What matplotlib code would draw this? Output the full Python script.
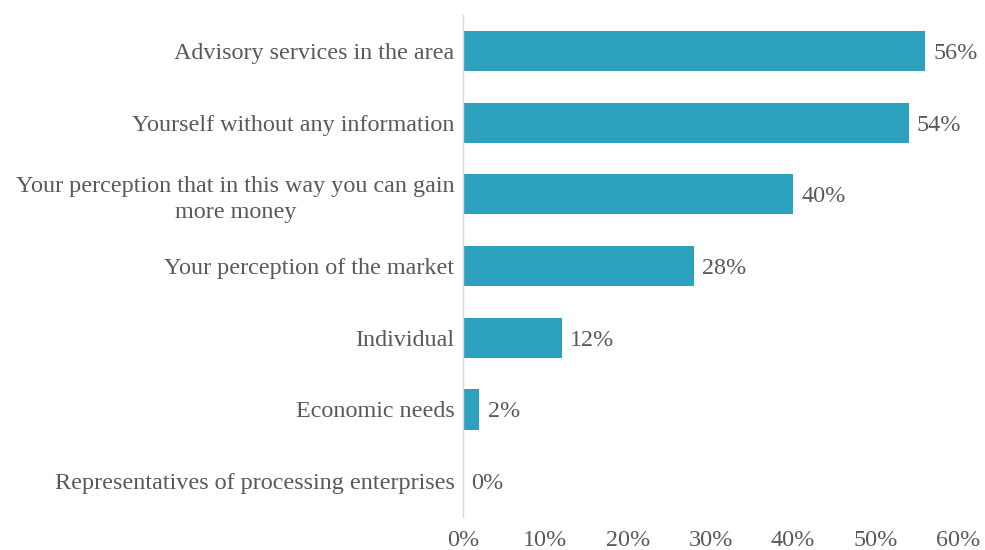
import matplotlib
matplotlib.use("Agg")
import matplotlib.pyplot as plt
from matplotlib.ticker import FuncFormatter

categories = [
    "Advisory services in the area",
    "Yourself without any information",
    "Your perception that in this way you can gain\nmore money",
    "Your perception of the market",
    "Individual",
    "Economic needs",
    "Representatives of processing enterprises",
]
values = [56, 54, 40, 28, 12, 2, 0]
x_ticks = [0, 10, 20, 30, 40, 50, 60]

bar_color = "#2CA2BF"
text_color = "#595959"
axis_color = "#D9D9D9"
font_size = 17.4

plt.rcParams["font.family"] = ["Liberation Serif", "DejaVu Serif"]

fig = plt.figure(figsize=(9.85, 5.5), dpi=100)
ax = fig.add_axes([0.470, 0.06, 0.5026, 0.9127])

positions = list(range(len(categories)))
ax.barh(positions, values, height=0.56, color=bar_color, edgecolor="none")
ax.set_ylim(len(categories) - 0.5, -0.5)
ax.set_xlim(0, 60)

ax.set_yticks(positions)
ax.set_yticklabels(categories, fontsize=font_size, color=text_color,
                   multialignment="center", linespacing=1.3)
ax.set_xticks(x_ticks)
ax.xaxis.set_major_formatter(FuncFormatter(lambda v, _: f"{v:.0f}%"))
ax.tick_params(axis="x", labelsize=font_size, labelcolor=text_color, length=0, pad=9)
ax.tick_params(axis="y", length=0, pad=6)

for side in ("top", "right", "bottom"):
    ax.spines[side].set_visible(False)
ax.spines["left"].set_color(axis_color)
ax.spines["left"].set_linewidth(1.0)

for pos, val in zip(positions, values):
    ax.annotate(f"{val}%", xy=(val, pos), xytext=(6, 0), textcoords="offset points",
                va="center_baseline", ha="left", fontsize=font_size, color=text_color)

fig.savefig("out.png", dpi=100, facecolor="white")
